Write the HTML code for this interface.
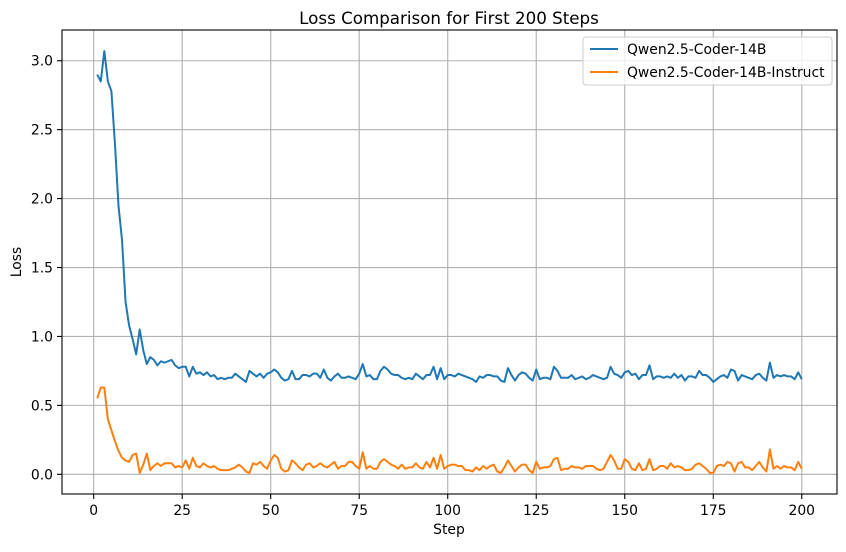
<!DOCTYPE html>
<html><head><meta charset="utf-8"><style>
body{margin:0;background:#fff;font-family:"Liberation Sans",sans-serif}
svg text{font-family:"DejaVu Sans","Liberation Sans",sans-serif;fill:#000}
</style></head><body>
<svg id="chart" width="846" height="547" xmlns="http://www.w3.org/2000/svg">
<rect width="846" height="547" fill="#fff"/>
<text x="449" y="24" font-size="16.7" text-anchor="middle">Loss Comparison for First 200 Steps</text>
<g id="grid"></g><g id="ticks"></g><g id="series"></g>
<rect x="62" y="30" width="775" height="464" fill="none" stroke="#000" stroke-width="1.1"/>
<text x="449" y="534" font-size="13.9" text-anchor="middle">Step</text>
<text x="21" y="262" font-size="13.9" text-anchor="middle" transform="rotate(-90 21 262)">Loss</text>
<g>
<rect x="583" y="37" width="249" height="48" rx="3" fill="#fff" fill-opacity="0.8" stroke="#ccc"/>
<g><line x1="590" y1="49" x2="618" y2="49" stroke="#1f77b4" stroke-width="2"/><text x="627" y="54" font-size="13.9">Qwen2.5-Coder-14B</text></g>
<g><line x1="590" y1="72" x2="618" y2="72" stroke="#ff7f0e" stroke-width="2"/><text x="627" y="77" font-size="13.9">Qwen2.5-Coder-14B-Instruct</text></g>
</g>
</svg>
<script>
const xTicks=[0,25,50,75,100,125,150,175,200];
const yTicks=[0,0.5,1.0,1.5,2.0,2.5,3.0];
const yTickLabels=["0.0","0.5","1.0","1.5","2.0","2.5","3.0"];
const baseLoss=[2.90,2.85,3.07,2.85,2.78,2.40,1.95,1.70,1.25,1.08,0.98,0.87,1.05,0.90,0.80,0.85,0.83,0.79,0.82,0.81,
.82,.83,.79,.77,.78,.78,.71,.78,.73,.74,
.72,.74,.71,.72,.69,.70,.69,.70,.70,.73,
.71,.69,.67,.75,.73,.71,.73,.70,.73,.74,
.76,.74,.70,.68,.69,.75,.69,.69,.72,.72,
.71,.73,.73,.70,.76,.70,.68,.71,.73,.70,
.70,.71,.70,.69,.73,.80,.71,.72,.69,.69,
.75,.78,.76,.73,.72,.72,.70,.69,.70,.69,
.73,.71,.69,.72,.72,.78,.69,.77,.69,.72,
.72,.71,.73,.72,.71,.70,.69,.67,.71,.70,
.72,.72,.71,.71,.68,.67,.77,.72,.68,.72,
.74,.73,.70,.68,.76,.69,.70,.70,.69,.78,
.75,.70,.70,.70,.72,.69,.70,.71,.69,.70,
.72,.71,.70,.69,.70,.78,.73,.72,.70,.74,
.75,.72,.73,.69,.72,.72,.79,.69,.71,.71,
.70,.71,.70,.73,.70,.72,.68,.71,.71,.70,
.75,.72,.72,.70,.67,.69,.71,.72,.70,.76,
.75,.68,.72,.71,.70,.69,.72,.73,.70,.68,
.81,.70,.72,.71,.72,.71,.71,.69,.74,.69];
const instructLoss=[0.55,0.63,0.63,0.40,0.32,0.24,0.17,0.12,0.10,0.09,0.14,0.15,0.01,0.07,0.15,0.03,0.06,0.08,0.06,0.08,
.08,.08,.05,.06,.05,.10,.04,.12,.06,.05,
.08,.06,.05,.06,.04,.03,.03,.03,.04,.05,
.07,.05,.02,.01,.08,.07,.09,.06,.04,.10,
.14,.12,.04,.02,.03,.10,.08,.05,.03,.07,
.08,.05,.06,.08,.06,.05,.07,.09,.04,.06,
.06,.09,.09,.06,.04,.16,.04,.06,.04,.04,
.09,.11,.09,.07,.06,.04,.07,.04,.05,.05,
.08,.05,.04,.09,.05,.12,.04,.14,.04,.06,
.07,.07,.06,.06,.03,.03,.02,.05,.03,.06,
.04,.06,.07,.02,.01,.05,.10,.06,.02,.05,
.07,.07,.03,.01,.09,.04,.05,.05,.06,.11,
.12,.03,.04,.04,.06,.05,.05,.04,.06,.06,
.06,.04,.03,.04,.09,.14,.10,.04,.04,.11,
.09,.04,.03,.08,.03,.04,.11,.03,.04,.06,
.06,.04,.08,.05,.06,.05,.03,.03,.04,.07,
.08,.06,.04,.01,.01,.06,.07,.06,.09,.08,
.02,.08,.09,.05,.05,.03,.06,.09,.05,.02,
.18,.04,.06,.04,.06,.05,.05,.03,.09,.04];
const NS="http://www.w3.org/2000/svg";
const L=62,R=837,T=30,B=494;
const xmin=-8.95,xmax=209.95,ymin=-0.143,ymax=3.223;
const sx=v=>L+(v-xmin)/(xmax-xmin)*(R-L);
const sy=v=>B-(v-ymin)/(ymax-ymin)*(B-T);
function mk(tag,attrs,parent){const e=document.createElementNS(NS,tag);for(const k in attrs)e.setAttribute(k,attrs[k]);parent.appendChild(e);return e;}
const grid=document.getElementById('grid'),ticks=document.getElementById('ticks'),series=document.getElementById('series');
xTicks.forEach(t=>{const x=sx(t);
const g=mk('line',{x1:x,x2:x,y1:T,y2:B,stroke:'#b0b0b0','stroke-width':1.1},grid);


mk('line',{x1:x,x2:x,y1:B,y2:B+5,stroke:'#000','stroke-width':1.1},ticks);
const tx=mk('text',{x:x,y:B+21,'font-size':13.9,'text-anchor':'middle'},ticks);tx.textContent=t;

});
yTicks.forEach((t,i)=>{const y=sy(t);
const g=mk('line',{x1:L,x2:R,y1:y,y2:y,stroke:'#b0b0b0','stroke-width':1.1},grid);


mk('line',{x1:L-5,x2:L,y1:y,y2:y,stroke:'#000','stroke-width':1.1},ticks);
const tx=mk('text',{x:L-9,y:y+5,'font-size':13.9,'text-anchor':'end'},ticks);tx.textContent=yTickLabels[i];

});
function line(data,color,name){const d=data.map((v,i)=>(i?'L':'M')+sx(i+1).toFixed(2)+' '+sy(v).toFixed(2)).join(' ');
const p=mk('path',{d:d,fill:'none',stroke:color,'stroke-width':2,'stroke-linejoin':'round'},series);

}
line(baseLoss,'#1f77b4','base-loss-line');
line(instructLoss,'#ff7f0e','instruct-loss-line');
</script>
</body></html>
